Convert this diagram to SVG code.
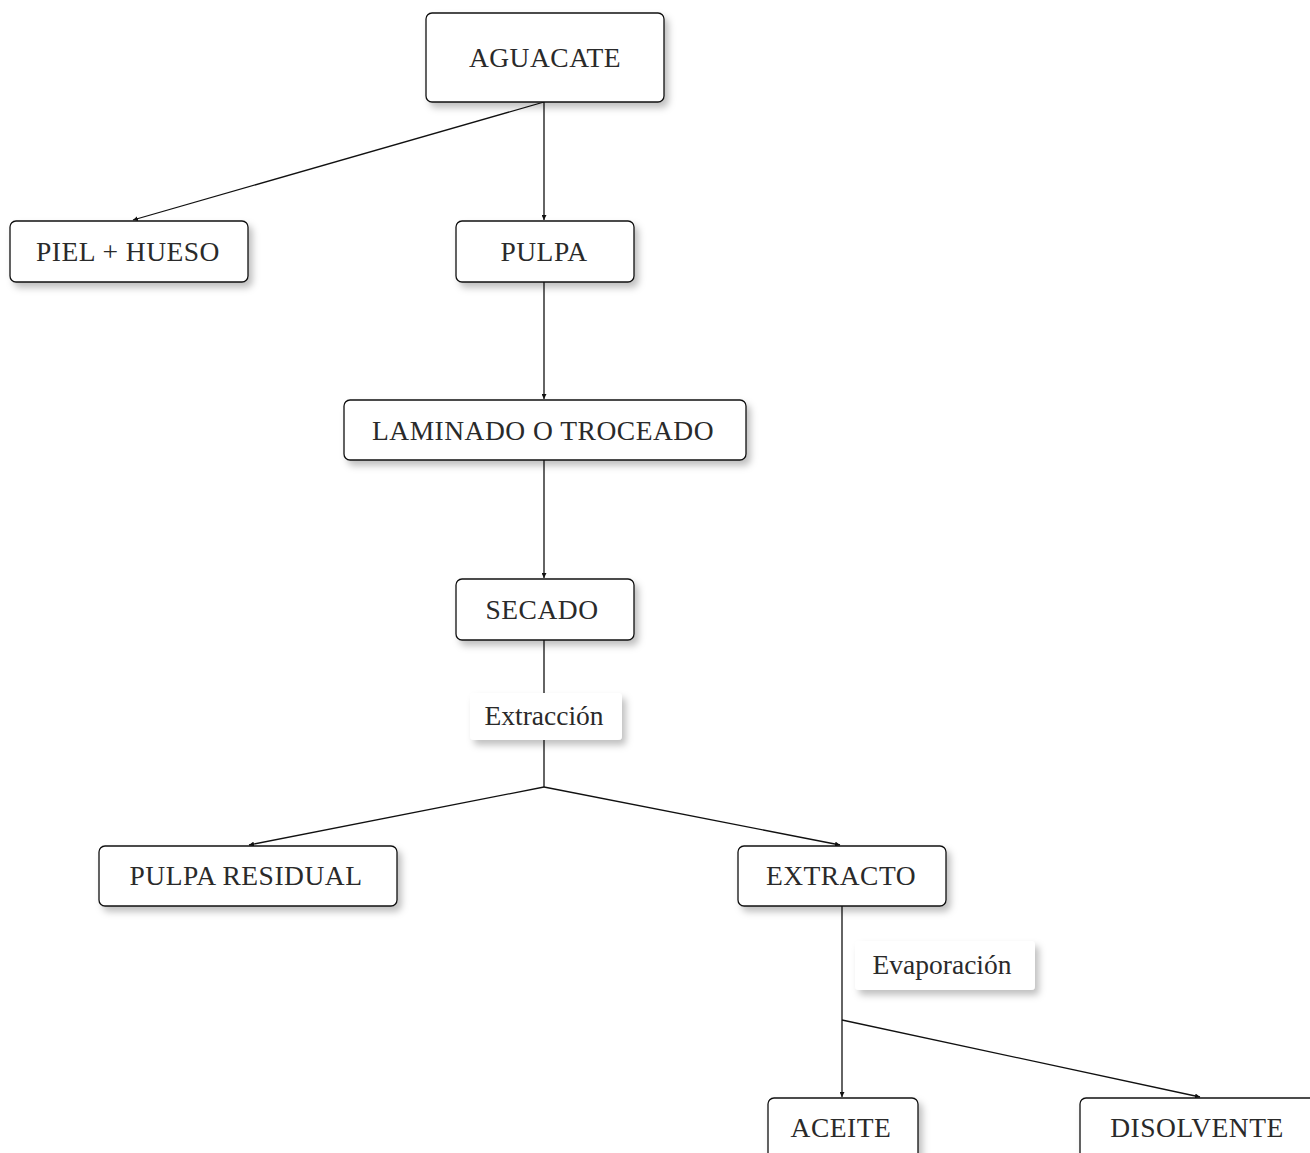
<svg xmlns="http://www.w3.org/2000/svg" width="1310" height="1153" viewBox="0 0 1310 1153">
<defs>
<filter id="sh" x="-10%" y="-20%" width="130%" height="160%">
<feDropShadow dx="4" dy="5" stdDeviation="3.5" flood-color="#000" flood-opacity="0.25"/>
</filter>
<marker id="ah" viewBox="0 0 10 10" refX="10" refY="5" markerWidth="5" markerHeight="5" orient="auto" markerUnits="userSpaceOnUse">
<path d="M0,0 L10,5 L0,10 z" fill="#111"/>
</marker>
<style>
.box{fill:#fff;stroke:#111;stroke-width:1.3;filter:url(#sh)}
.lbl{fill:#fff;stroke:none;filter:url(#sh)}
.t{font-family:"Liberation Serif","Times New Roman",serif;font-size:27.5px;fill:#2a2a2a;text-anchor:middle}
.u{letter-spacing:0.5px}
.c{fill:none;stroke:#111;stroke-width:1.3}
</style>
</defs>
<g id="connectors">
<line class="c" x1="544" y1="102" x2="544" y2="220" marker-end="url(#ah)"/>
<line class="c" x1="544" y1="102" x2="133" y2="220" marker-end="url(#ah)"/>
<line class="c" x1="544" y1="282" x2="544" y2="399" marker-end="url(#ah)"/>
<line class="c" x1="544" y1="460" x2="544" y2="578" marker-end="url(#ah)"/>
<polyline class="c" points="544,640 544,787"/>
<line class="c" x1="544" y1="787" x2="249" y2="845" marker-end="url(#ah)"/>
<line class="c" x1="544" y1="787" x2="840" y2="845" marker-end="url(#ah)"/>
<polyline class="c" points="842,906 842,1020"/>
<line class="c" x1="842" y1="1020" x2="842" y2="1097" marker-end="url(#ah)"/>
<line class="c" x1="842" y1="1020" x2="1200" y2="1097" marker-end="url(#ah)"/>
</g>
<g id="aguacate"><rect class="box" x="426" y="13" width="238" height="89" rx="6"/><text class="t u" x="545" y="67">AGUACATE</text></g>
<g id="piel"><rect class="box" x="10" y="221" width="238" height="61" rx="6"/><text class="t u" x="128" y="261">PIEL + HUESO</text></g>
<g id="pulpa"><rect class="box" x="456" y="221" width="178" height="61" rx="6"/><text class="t u" x="544" y="261">PULPA</text></g>
<g id="laminado"><rect class="box" x="344" y="400" width="402" height="60" rx="6"/><text class="t u" x="543" y="440">LAMINADO O TROCEADO</text></g>
<g id="secado"><rect class="box" x="456" y="579" width="178" height="61" rx="6"/><text class="t u" x="542" y="619">SECADO</text></g>
<g id="extraccion"><rect class="lbl" x="470" y="693" width="152" height="47" rx="4"/><text class="t" x="544" y="725">Extracción</text></g>
<g id="residual"><rect class="box" x="99" y="846" width="298" height="60" rx="6"/><text class="t u" x="246" y="885">PULPA RESIDUAL</text></g>
<g id="extracto"><rect class="box" x="738" y="846" width="208" height="60" rx="6"/><text class="t u" x="841" y="885">EXTRACTO</text></g>
<g id="evaporacion"><rect class="lbl" x="855" y="941" width="180" height="49" rx="4"/><text class="t" x="942" y="974">Evaporación</text></g>
<g id="aceite"><rect class="box" x="768" y="1098" width="150" height="70" rx="6"/><text class="t u" x="841" y="1137">ACEITE</text></g>
<g id="disolvente"><rect class="box" x="1080" y="1098" width="250" height="70" rx="6"/><text class="t u" x="1197" y="1137">DISOLVENTE</text></g>
</svg>
